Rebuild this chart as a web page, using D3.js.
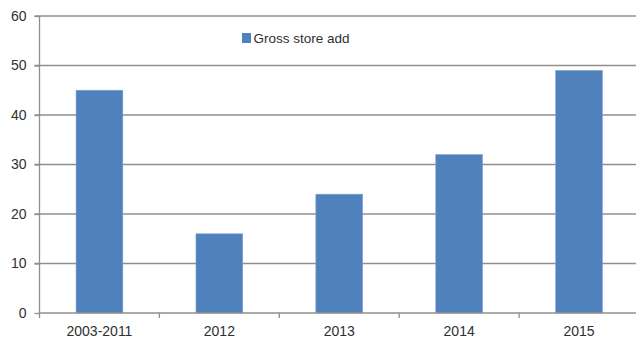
<!DOCTYPE html>
<html>
<head>
<meta charset="utf-8">
<script src="https://cdn.jsdelivr.net/npm/d3@7/dist/d3.min.js"></script>
<style>
  html, body { margin: 0; padding: 0; background: #fff; }
  svg { display: block; font-family: "Liberation Sans", Arial, sans-serif; }
</style>
</head>
<body>
<svg id="chart" width="636" height="339"></svg>
<script>
// Gross store additions per period
const categories = ["2003-2011", "2012", "2013", "2014", "2015"];
const grossStoreAdd = [45, 16, 24, 32, 49];
const yTicks = [0, 10, 20, 30, 40, 50, 60];
const seriesName = "Gross store add";

const svg = d3.select("#chart");
const plotLeft = 39.5, plotRight = 639, plotTop = 16, plotBottom = 313;

const x = d3.scaleBand().domain(categories).range([plotLeft, plotRight])
  .paddingInner(0.61).paddingOuter(0.305);
const y = d3.scaleLinear().domain([0, 60]).range([plotBottom, plotTop]);

const gridColor = "#8f8f8f";
const textColor = "#303030";

// horizontal gridlines (with short ticks left of the axis)
svg.append("g").selectAll("line").data(yTicks.filter(t => t > 0)).join("line")
  .attr("x1", plotLeft - 5).attr("x2", 636)
  .attr("y1", d => y(d)).attr("y2", d => y(d))
  .attr("stroke", gridColor).attr("stroke-width", 1.3);

// bars
svg.append("g").selectAll("rect").data(categories).join("rect")
  .attr("x", d => x(d))
  .attr("width", x.bandwidth())
  .attr("y", (d, i) => y(grossStoreAdd[i]))
  .attr("height", (d, i) => y(0) - y(grossStoreAdd[i]))
  .attr("fill", "#4f81bd")
  .attr("stroke", "#7ea2d2").attr("stroke-width", 0.6);

// y axis
const yAxis = d3.axisLeft(y).tickValues(yTicks).tickSize(5).tickPadding(8);
const gy = svg.append("g").attr("transform", `translate(${plotLeft},0)`).call(yAxis);
gy.select(".domain").attr("stroke", gridColor).attr("stroke-width", 1.3)
  .attr("d", `M0,${plotTop}V${plotBottom}`);
gy.selectAll(".tick line").attr("stroke", gridColor).attr("stroke-width", 1.3);
gy.selectAll(".tick text").attr("fill", textColor).attr("font-size", 14)
  .attr("font-family", "'Liberation Sans', Arial, sans-serif");

// x axis
const xAxis = d3.axisBottom(x).tickSize(0).tickPadding(13);
const gx = svg.append("g").attr("transform", `translate(0,${plotBottom})`).call(xAxis);
gx.select(".domain").remove();
gx.append("line").attr("x1", plotLeft).attr("x2", 636).attr("y1", 0).attr("y2", 0)
  .attr("stroke", gridColor).attr("stroke-width", 1.3);
// category boundary ticks
const step = x.step();
const bounds = d3.range(categories.length + 1).map(i => plotLeft + i * step);
gx.selectAll(".bound").data(bounds).join("line").attr("class", "bound")
  .attr("x1", d => d).attr("x2", d => d).attr("y1", 0).attr("y2", 5)
  .attr("stroke", gridColor).attr("stroke-width", 1.3);
gx.selectAll(".tick text").attr("fill", textColor).attr("font-size", 14)
  .attr("font-family", "'Liberation Sans', Arial, sans-serif");

// legend
const lg = svg.append("g").attr("transform", "translate(242,33)");
lg.append("rect").attr("width", 9).attr("height", 10).attr("fill", "#4f81bd");
lg.append("text").attr("x", 11.5).attr("y", 9.5).text(seriesName)
  .attr("fill", textColor).attr("font-size", 13.5);
</script>
</body>
</html>
